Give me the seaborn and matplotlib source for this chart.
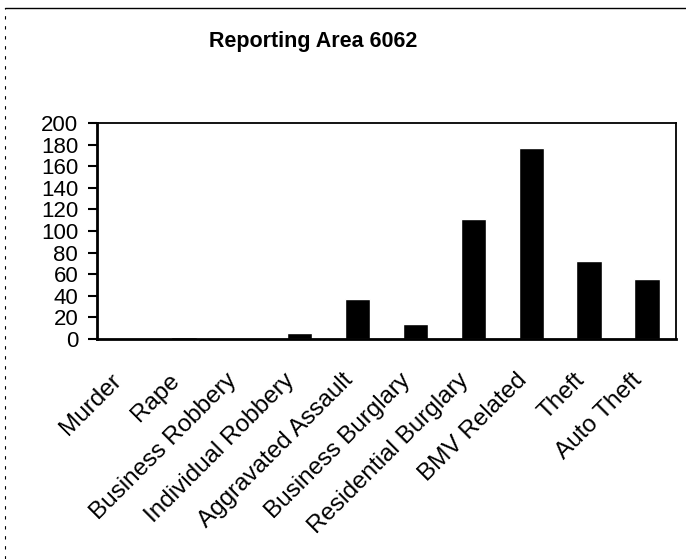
import numpy as np
import pandas as pd
import matplotlib
matplotlib.use('Agg')
import matplotlib.pyplot as plt
import matplotlib.transforms as mtransforms
from matplotlib.lines import Line2D
import seaborn as sns

# Дані
categories = ['Murder', 'Rape', 'Business Robbery', 'Individual Robbery',
              'Aggravated Assault', 'Business Burglary', 'Residential Burglary',
              'BMV Related', 'Theft', 'Auto Theft']
counts = [1, 2, 0, 6, 37, 14, 111, 177, 72, 56]
y_ticks = [0, 20, 40, 60, 80, 100, 120, 140, 160, 180, 200]

df = pd.DataFrame({'category': categories, 'count': counts})

sns.set_style('white')
plt.rcParams['font.family'] = ['Liberation Sans', 'DejaVu Sans']
plt.rcParams['text.color'] = 'black'
plt.rcParams['xtick.color'] = 'black'
plt.rcParams['ytick.color'] = 'black'

fig = plt.figure(figsize=(6.86, 5.59), dpi=100)
ax = fig.add_axes([97 / 686, 1 - 339 / 559, 579 / 686, 216 / 559])

sns.barplot(data=df, x='category', y='count', color='black', width=0.44,
            saturation=1, ax=ax)

ax.set_ylim(0, 200)
ax.set_yticks(y_ticks)
ax.set_yticklabels([str(v) for v in y_ticks], fontsize=16)
ax.set_xlabel('')
ax.set_ylabel('')

for s in ax.spines.values():
    s.set_color('black')
    s.set_linewidth(1.3)
ax.spines['left'].set_linewidth(2)
ax.spines['bottom'].set_linewidth(2)

ax.tick_params(axis='y', direction='out', length=6.5, width=1.5, pad=7,
               left=True)
ax.tick_params(axis='x', length=0, pad=0)

# Підписи категорій під кутом 45°
offset = mtransforms.ScaledTranslation(-0.08, -0.38, fig.dpi_scale_trans)
for lbl in ax.get_xticklabels():
    lbl.set_rotation(45)
    lbl.set_ha('right')
    lbl.set_va('center')
    lbl.set_rotation_mode('anchor')
    lbl.set_fontsize(17.5)
    lbl.set_transform(lbl.get_transform() + offset)

fig.text(313 / 686, 1 - 42 / 559, 'Reporting Area 6062', ha='center', va='center',
         fontsize=15.5, fontweight='bold')

# Рамка сканованої сторінки
fig.add_artist(Line2D([5 / 686, 1], [1 - 8 / 559, 1 - 8 / 559], color='black',
                      linewidth=1, transform=fig.transFigure))
fig.add_artist(Line2D([5 / 686, 5 / 686], [0, 1 - 8 / 559], color='black',
                      linewidth=0.8, linestyle=(0, (3, 6)), transform=fig.transFigure))

fig.savefig('out.png', dpi=100)
